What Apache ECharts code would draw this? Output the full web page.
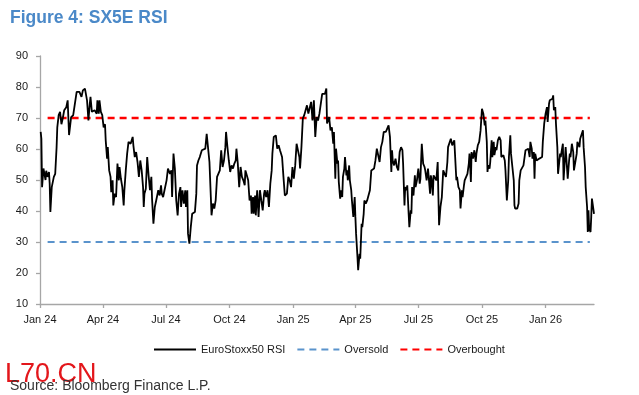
<!DOCTYPE html>
<html><head><meta charset="utf-8">
<script src="https://cdn.jsdelivr.net/npm/echarts@6/dist/echarts.min.js"></script>
<style>html,body{margin:0;padding:0;background:#fff}#c{width:639px;height:395px}</style>
</head><body><div id="c"></div>
<script>
const dates = [
'2024-01-02','2024-01-03','2024-01-04','2024-01-06','2024-01-09','2024-01-10','2024-01-12','2024-01-14','2024-01-15','2024-01-16',
'2024-01-18','2024-01-21','2024-01-23','2024-01-25','2024-01-26','2024-01-28','2024-01-30','2024-02-01','2024-02-03','2024-02-05',
'2024-02-08','2024-02-10','2024-02-12','2024-02-15','2024-02-18','2024-02-20','2024-02-23','2024-02-25','2024-02-27','2024-03-01',
'2024-03-03','2024-03-06','2024-03-07','2024-03-09','2024-03-10','2024-03-11','2024-03-13','2024-03-14','2024-03-16','2024-03-18',
'2024-03-20','2024-03-23','2024-03-24','2024-03-26','2024-03-27','2024-03-29','2024-03-31','2024-04-02','2024-04-04','2024-04-05',
'2024-04-07','2024-04-08','2024-04-10','2024-04-12','2024-04-13','2024-04-15','2024-04-16','2024-04-18','2024-04-20','2024-04-22',
'2024-04-24','2024-04-25','2024-04-27','2024-04-29','2024-05-01','2024-05-02','2024-05-04','2024-05-06','2024-05-08','2024-05-11',
'2024-05-14','2024-05-15','2024-05-17','2024-05-19','2024-05-21','2024-05-23','2024-05-25','2024-05-27','2024-05-29','2024-05-30',
'2024-05-31','2024-06-02','2024-06-04','2024-06-06','2024-06-08','2024-06-10','2024-06-11','2024-06-13','2024-06-15','2024-06-17',
'2024-06-20','2024-06-22','2024-06-24','2024-06-25','2024-06-27','2024-06-29','2024-07-02','2024-07-04','2024-07-07','2024-07-09',
'2024-07-10','2024-07-12','2024-07-14','2024-07-16','2024-07-18','2024-07-20',
'2024-07-22','2024-07-23','2024-07-25','2024-07-27','2024-07-29','2024-07-30','2024-08-01','2024-08-02','2024-08-03','2024-08-04',
'2024-08-06','2024-08-08','2024-08-10','2024-08-12','2024-08-14','2024-08-15','2024-08-17','2024-08-19','2024-08-22','2024-08-24',
'2024-08-27','2024-08-29','2024-08-31','2024-09-02','2024-09-04','2024-09-05','2024-09-07','2024-09-09','2024-09-11','2024-09-13',
'2024-09-15','2024-09-17','2024-09-19','2024-09-21','2024-09-23','2024-09-25','2024-09-26','2024-09-28','2024-09-30','2024-10-02',
'2024-10-04','2024-10-06','2024-10-08','2024-10-10','2024-10-11','2024-10-13','2024-10-15','2024-10-17','2024-10-19','2024-10-21',
'2024-10-23','2024-10-24','2024-10-26','2024-10-28','2024-10-30','2024-11-01','2024-11-02','2024-11-04','2024-11-05','2024-11-07',
'2024-11-08','2024-11-10','2024-11-12','2024-11-14','2024-11-16','2024-11-18','2024-11-20','2024-11-21','2024-11-23','2024-11-25',
'2024-11-27','2024-11-29','2024-12-01','2024-12-02','2024-12-04','2024-12-07','2024-12-09','2024-12-11','2024-12-13','2024-12-15',
'2024-12-16','2024-12-18','2024-12-20','2024-12-22','2024-12-23','2024-12-25','2024-12-27','2024-12-29','2024-12-31','2025-01-02',
'2025-01-04','2025-01-06','2025-01-08','2025-01-10','2025-01-11','2025-01-13','2025-01-15','2025-01-17','2025-01-19','2025-01-21',
'2025-01-23','2025-01-25','2025-01-27','2025-01-29','2025-01-31',
'2025-02-02','2025-02-04','2025-02-06','2025-02-08','2025-02-10','2025-02-12','2025-02-14','2025-02-16','2025-02-18','2025-02-19',
'2025-02-21','2025-02-22','2025-02-24','2025-02-26','2025-02-28','2025-03-01','2025-03-03','2025-03-04','2025-03-06','2025-03-07',
'2025-03-08','2025-03-10','2025-03-11','2025-03-13','2025-03-14','2025-03-16','2025-03-17','2025-03-19','2025-03-20','2025-03-21',
'2025-03-23','2025-03-24','2025-03-26','2025-03-27','2025-03-29','2025-03-31','2025-04-01','2025-04-02','2025-04-04','2025-04-05',
'2025-04-07','2025-04-08','2025-04-10','2025-04-11','2025-04-13','2025-04-14','2025-04-16','2025-04-18','2025-04-20','2025-04-22',
'2025-04-24','2025-04-26','2025-04-28','2025-04-30','2025-05-02','2025-05-04','2025-05-06','2025-05-08','2025-05-10','2025-05-12',
'2025-05-13','2025-05-15','2025-05-17','2025-05-19','2025-05-21','2025-05-23','2025-05-24','2025-05-25','2025-05-27','2025-05-29',
'2025-05-31','2025-06-02','2025-06-04','2025-06-06','2025-06-08','2025-06-09','2025-06-11','2025-06-12','2025-06-14','2025-06-15',
'2025-06-17','2025-06-18','2025-06-20','2025-06-21','2025-06-22','2025-06-24','2025-06-26','2025-06-27','2025-06-29','2025-07-01',
'2025-07-03','2025-07-04','2025-07-06','2025-07-08','2025-07-10','2025-07-11','2025-07-13','2025-07-15','2025-07-16','2025-07-18',
'2025-07-19','2025-07-20','2025-07-22','2025-07-23','2025-07-25','2025-07-27','2025-07-29','2025-07-30','2025-07-31','2025-08-02',
'2025-08-04','2025-08-06','2025-08-08','2025-08-10','2025-08-12','2025-08-13','2025-08-15','2025-08-17','2025-08-19',
'2025-08-22','2025-08-23','2025-08-25','2025-08-26','2025-08-28','2025-08-30','2025-08-31','2025-09-02','2025-09-03','2025-09-05',
'2025-09-06','2025-09-08','2025-09-10','2025-09-12','2025-09-13','2025-09-15','2025-09-16','2025-09-18','2025-09-20','2025-09-22',
'2025-09-23','2025-09-25','2025-09-27','2025-09-29','2025-10-01','2025-10-03','2025-10-05','2025-10-06','2025-10-08','2025-10-09',
'2025-10-10','2025-10-12','2025-10-13','2025-10-15','2025-10-16','2025-10-18','2025-10-19','2025-10-21','2025-10-22','2025-10-24',
'2025-10-26','2025-10-28','2025-10-29','2025-10-31','2025-11-01','2025-11-03','2025-11-04','2025-11-06','2025-11-08','2025-11-09',
'2025-11-11','2025-11-12','2025-11-14','2025-11-16','2025-11-17','2025-11-18','2025-11-20','2025-11-21','2025-11-23','2025-11-24',
'2025-11-26','2025-11-28','2025-11-30','2025-12-01','2025-12-03','2025-12-05','2025-12-07','2025-12-09','2025-12-10','2025-12-12',
'2025-12-13','2025-12-15','2025-12-16','2025-12-17','2025-12-19','2025-12-21','2025-12-23','2025-12-25','2025-12-27','2025-12-28',
'2025-12-30','2026-01-01','2026-01-03','2026-01-04','2026-01-06','2026-01-07','2026-01-09','2026-01-11','2026-01-12','2026-01-13',
'2026-01-15','2026-01-16','2026-01-18','2026-01-19','2026-01-20','2026-01-22','2026-01-23','2026-01-24','2026-01-26','2026-01-27',
'2026-01-29','2026-01-30','2026-02-01','2026-02-02','2026-02-04','2026-02-05','2026-02-06','2026-02-08','2026-02-10','2026-02-11',
'2026-02-13','2026-02-15','2026-02-16','2026-02-18','2026-02-19','2026-02-20','2026-02-22','2026-02-24','2026-02-25','2026-02-27',
'2026-02-28','2026-03-02','2026-03-03','2026-03-04','2026-03-05','2026-03-07','2026-03-08','2026-03-09','2026-03-11','2026-03-12'
];
const rsi = [
65.5,63.3,47.7,53.7,50,53,51,52.6,48.8,39.7,
47.7,51,52,60.6,67,70.9,72,68,70,72.5,
73.5,75.7,64.5,70.3,70.9,71.4,78.4,77.8,78.4,76.8,
78.9,79.5,80,75.7,72.5,69.2,74.6,76.8,72,71.4,
72.5,71.4,75.7,71.4,75.7,72,70.9,67,68,62.8,
56.9,60.6,53.1,51,46.1,49.9,41.8,45.6,44.5,55.3,
49.9,54.2,50.4,47.7,41.8,46.7,53.1,58.5,62.3,61.7,
63.9,61.2,57.4,59,55.8,51,56.3,53.1,47.7,41.3,
45.6,47.2,57.4,51.5,46.7,51,44,35.9,41.3,43.4,
46.7,45,48.3,45.6,44.5,46.7,49.9,53.7,52,53.1,
44.5,58.5,53.7,43.4,38.6,45.6,
47.7,41.3,46.7,42.4,46.7,41.3,46.7,32.7,31.1,29.5,
34.8,39.1,39.1,39.7,45.6,54.7,56.3,57.4,59.6,59,
60.1,64.9,64.4,55.8,44.5,38.6,42.4,40.8,43.4,51,
50.4,53.1,59.6,54.2,56.3,60.6,65.5,60.6,56.3,52.6,
54.7,53.7,55.3,56.3,60.1,55.3,47.7,54.2,51,49.9,
48.3,53.1,51.5,49.9,43.4,45,39.1,44.5,39.1,45,
38.6,46.7,38.1,46.7,43.4,40.2,45.6,46.7,44.5,46.7,
41.3,48.8,53.1,58.5,63.9,64.4,60.1,61.2,59.6,59,
57.4,51,45,44.5,45.6,51,49.9,47.7,54.2,50.4,
54.7,61.7,62.3,57.4,53.7,60.6,69.8,70.9,71.4,74.1,
71.4,70.9,75.2,69.2,75.7,
63.9,70.3,69.2,71.4,72,77.8,78.4,77.8,79.5,68.2,
68.2,70.3,66,67,61.7,65.5,50.4,60.1,55.3,56.3,
49.4,44,46.7,44.5,51,53.7,57.4,51.5,53.1,49.9,
54.7,49.9,46.7,43.4,38.1,44.5,38.1,32.7,25.2,20.9,
26.2,24.6,35.9,34.8,39.1,43.4,42.4,43.4,44,46.7,
53.1,53.7,53.7,56.3,60.1,59.6,55.8,60.6,62.3,65.5,
66,65.5,66,67.6,63.9,52.6,59.6,56.3,54.7,56.9,
54.2,53.1,59,60.6,59.6,55.3,41.8,47.7,46.7,48.3,
39.1,34.8,40.2,39.1,47.7,45,51.5,47.7,49.9,53.7,
48.8,50.4,61.7,55.3,54.2,53.1,49.9,53.7,51,45.6,
51.5,50.4,45,51.5,51,49.9,55.8,45,35.4,41.3,
44.5,53.1,52,51,55.8,60.6,61.2,63.3,61.2,
62.8,58.5,49.9,51,47.7,46.7,40.8,46.7,44.5,48.3,
49.9,49.9,52,55.3,58.5,49.4,59,56.9,59.6,55.8,
58.5,61.2,62.3,66,73,71.4,67.6,69.2,62.3,52.6,
54.7,53.7,55.8,62.8,57.4,62.3,58,60.6,59.6,62.8,
63.9,62.8,57.4,56.9,58,56.3,53.1,43.4,49.9,57.4,
64.4,58.5,54.2,49.9,41.8,40.8,41.3,40.8,42.4,49.9,
53.1,53.7,54.7,55.3,59.6,60.1,60.1,57.4,62.3,60.1,
56.9,59,50.4,58.5,56.3,56.9,56.9,57.4,57.4,62.3,
68.2,71.4,73.5,68.7,74.6,75.7,75.2,76.2,77.3,72.5,
73.5,68.2,60.6,52,51.5,58.5,57.4,59,61.7,49.9,
56.9,60.6,60.1,50.4,56.3,58.5,57.4,61.7,59,53.1,
52.6,58.5,62.3,62.8,60.6,63.3,62.8,66,60.6,54.2,
47.7,41.3,33.2,40.2,34.3,33.2,38.1,44,40.8,39.1
];
const oversoldLevel = 30;
const overboughtLevel = 70;
const levelDates = ['2024-01-12', '2026-03-06'];
const tickDates = ['2024-01-01','2024-04-01','2024-07-01','2024-10-01','2025-01-01','2025-04-01','2025-07-01','2025-10-01','2026-01-01'];
const tickLabels = ['Jan 24','Apr 24','Jul 24','Oct 24','Jan 25','Apr 25','Jul 25','Oct 25','Jan 26'];
const axisStart = '2024-01-01';
const axisEnd = '2026-03-12';

function dayNum(s) {
  const p = s.split('-').map(Number);
  return (Date.UTC(p[0], p[1] - 1, p[2]) - Date.UTC(2024, 0, 1)) / 86400000;
}
const tickDays = tickDates.map(dayNum);
const rsiData = dates.map((d, i) => [dayNum(d), rsi[i]]);
const FONT = '"Liberation Sans", Arial, sans-serif';
const axisGrey = '#a6a6a6';

const chart = echarts.init(document.getElementById('c'), null, {renderer: 'canvas'});
chart.setOption({
  animation: false,
  backgroundColor: '#fff',
  title: {
    text: 'Figure 4: SX5E RSI', left: 5, top: 4,
    textStyle: {color: '#4b89c8', fontSize: 17.5, fontWeight: 'bold', fontFamily: FONT}
  },
  grid: {left: 40, right: 45, top: 56, bottom: 91, containLabel: false},
  legend: {
    data: ['EuroStoxx50 RSI', 'Oversold', 'Overbought'],
    left: 153, top: 344, padding: 0, itemWidth: 42, itemHeight: 14, itemGap: 11,
    itemStyle: {opacity: 0},
    textStyle: {fontSize: 11, color: '#1a1a1a', fontFamily: FONT}
  },
  xAxis: {
    type: 'value', min: dayNum(axisStart), max: dayNum(axisEnd),
    axisLine: {lineStyle: {color: axisGrey, width: 1.3}},
    axisTick: {show: true, customValues: tickDays, length: 4, lineStyle: {color: axisGrey, width: 1.3}},
    axisLabel: {
      customValues: tickDays, margin: 10, fontSize: 11, color: '#1a1a1a', fontFamily: FONT,
      formatter: v => { const k = tickDays.indexOf(v); return k >= 0 ? tickLabels[k] : ''; }
    },
    splitLine: {show: false}
  },
  yAxis: {
    type: 'value', min: 10, max: 90, interval: 10,
    axisLine: {show: true, lineStyle: {color: axisGrey, width: 1.3}},
    axisTick: {show: true, length: 4, lineStyle: {color: axisGrey, width: 1.3}},
    axisLabel: {margin: 12, fontSize: 11, color: '#1a1a1a', fontFamily: FONT},
    splitLine: {show: false}
  },
  series: [
    {
      name: 'Oversold', type: 'line', symbol: 'none', silent: true,
      data: levelDates.map(d => [dayNum(d), oversoldLevel]),
      lineStyle: {color: '#5a93cc', width: 2.2, type: [7, 5]}, itemStyle: {color: '#5a93cc'}
    },
    {
      name: 'Overbought', type: 'line', symbol: 'none', silent: true,
      data: levelDates.map(d => [dayNum(d), overboughtLevel]),
      lineStyle: {color: '#ff0000', width: 2.4, type: [7, 5]}, itemStyle: {color: '#ff0000'}
    },
    {
      name: 'EuroStoxx50 RSI', type: 'line', symbol: 'none', silent: true,
      data: rsiData,
      lineStyle: {color: '#000', width: 1.8}, itemStyle: {color: '#000'}
    }
  ],
  graphic: [
    {type: 'text', x: 5, y: 375, silent: true,
     style: {text: 'L70.CN', fill: '#e3161b', font: '27px ' + FONT, verticalAlign: 'middle'}},
    {type: 'text', x: 10, y: 386, silent: true,
     style: {text: 'Source: Bloomberg Finance L.P.', fill: '#333', font: '14px ' + FONT, verticalAlign: 'middle'}}
  ]
});
</script>
</body></html>
